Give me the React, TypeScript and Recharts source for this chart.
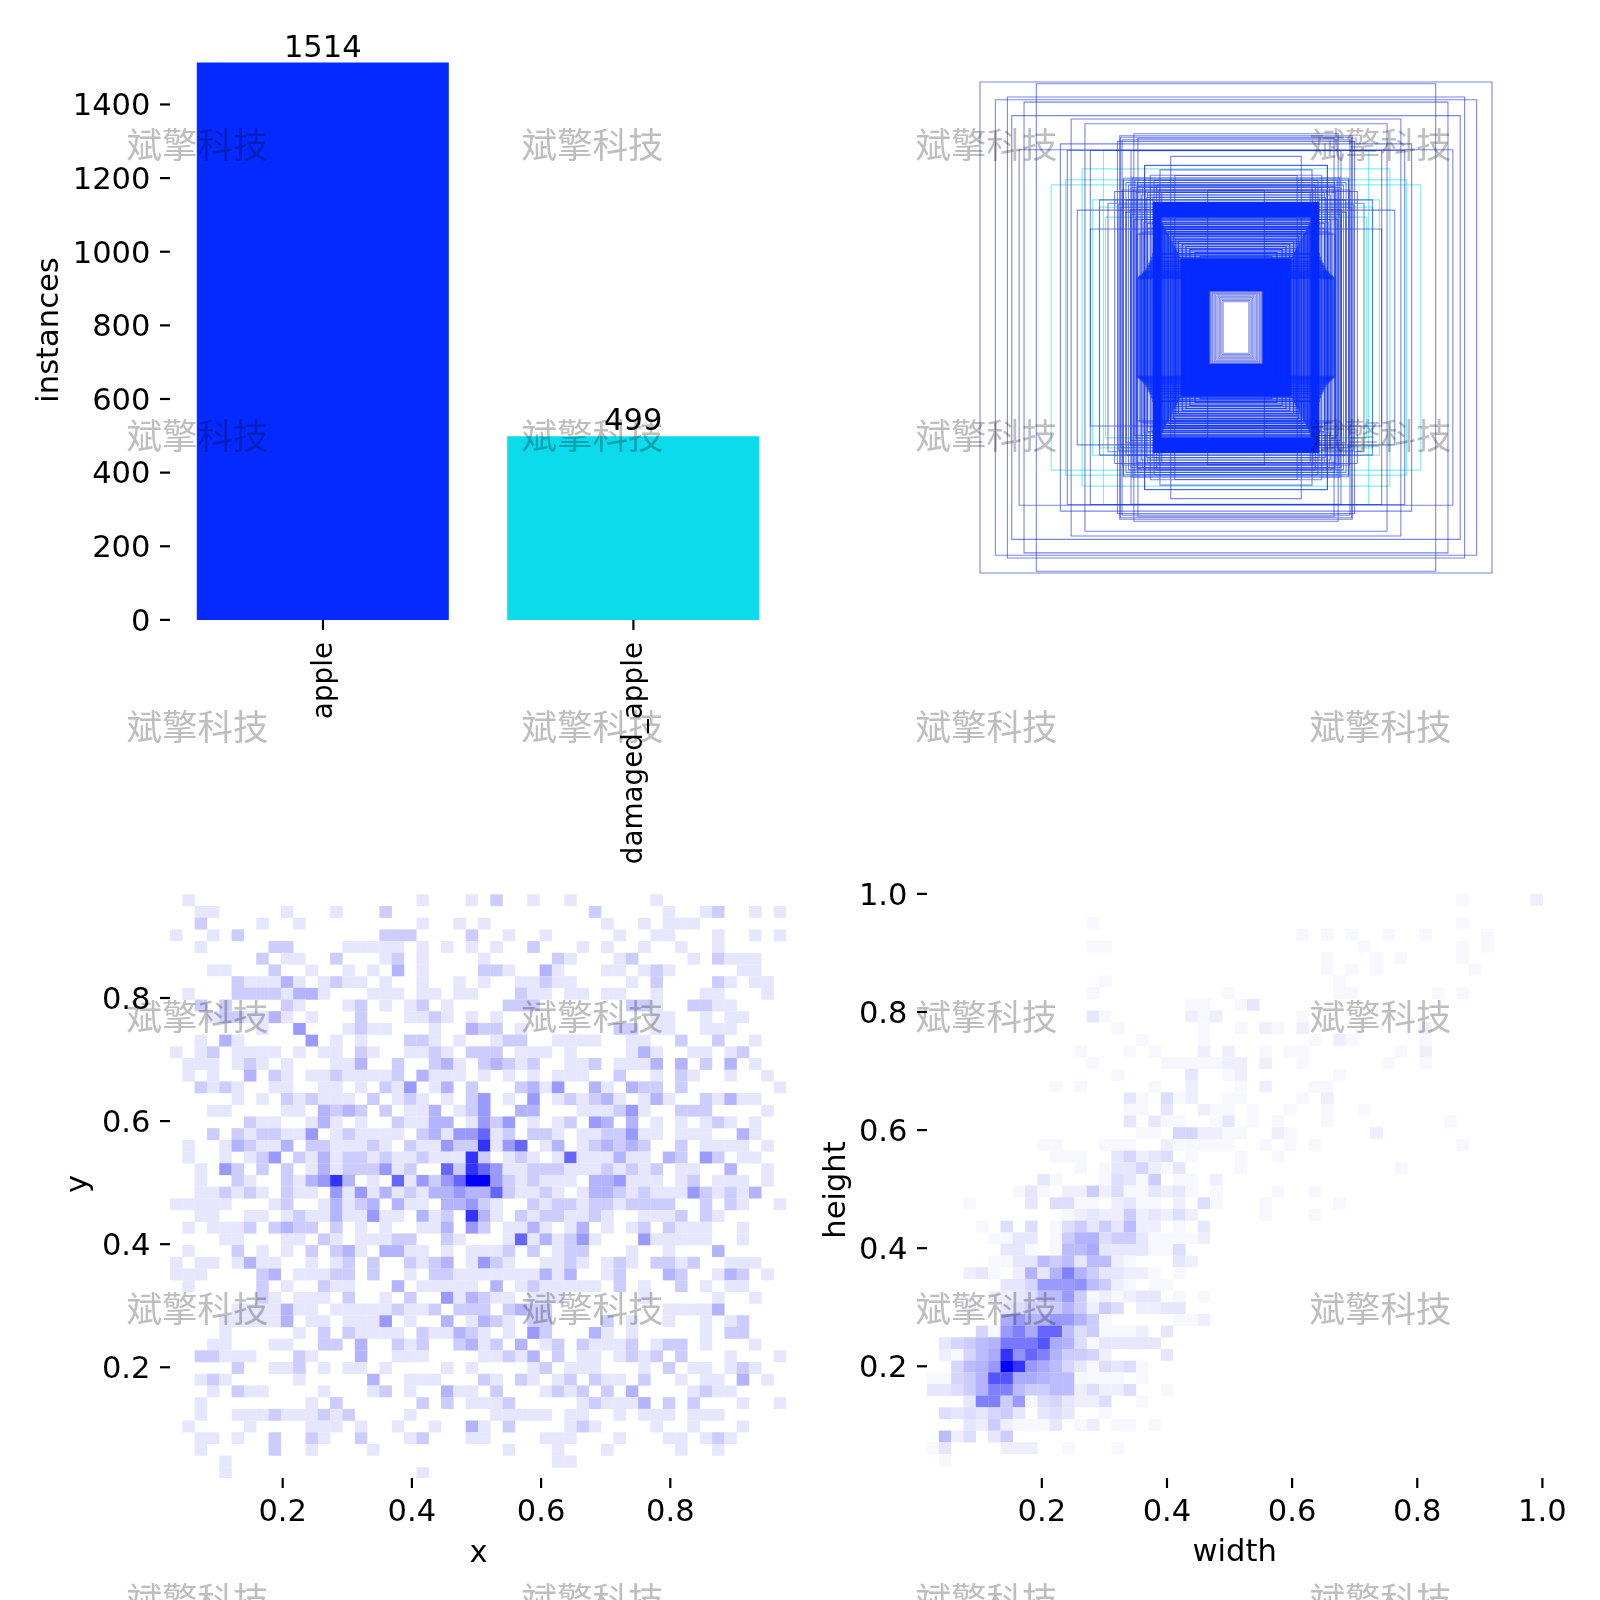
import { BarChart, Bar, Cell, LabelList, XAxis, YAxis, ScatterChart, Scatter, ReferenceArea } from 'recharts';

const FONT = '"DejaVu Sans", sans-serif';
const TICK_SIZE = 30.56;
const CLASS_SIZE = 27.8;

const classNames = ['apple', 'damaged_apple'];
const instanceCounts = [1514, 499];
const classColors = ['#042aff', '#0bdbeb'];
const instanceTicks = [0, 200, 400, 600, 800, 1000, 1200, 1400];

// box sizes as [width, height], all centred on the origin
const appleBoxes = [
  [1.0, 1.0], [0.78, 0.993], [0.94, 0.928], [0.893, 0.939], [0.828, 0.918], [0.876, 0.863],
  [0.644, 0.849], [0.59, 0.83], [0.847, 0.724], [0.686, 0.748], [0.659, 0.721], [0.454, 0.781],
  [0.463, 0.758], [0.399, 0.789], [0.383, 0.771], [0.569, 0.721], [0.255, 0.697], [0.357, 0.661],
  [0.297, 0.642], [0.239, 0.619], [0.111, 0.558], [0.62, 0.478], [0.569, 0.401], [0.533, 0.52],
  [0.5, 0.506], [0.44, 0.608], [0.474, 0.554], [0.387, 0.574], [0.346, 0.424], [0.319, 0.411],
  [0.452, 0.775], [0.445, 0.765], [0.41, 0.72], [0.357, 0.66], [0.44, 0.6], [0.43, 0.59],
  [0.42, 0.58], [0.41, 0.57], [0.4, 0.56], [0.39, 0.55], [0.37, 0.54], [0.35, 0.53],
  [0.335, 0.62], [0.32, 0.6], [0.31, 0.58], [0.3, 0.56], [0.29, 0.55], [0.46, 0.5],
  [0.45, 0.49], [0.43, 0.47], [0.41, 0.46], [0.39, 0.45], [0.37, 0.44], [0.36, 0.43],
];
const damagedBoxes = [
  [0.722, 0.581], [0.666, 0.601], [0.601, 0.646], [0.518, 0.721], [0.534, 0.49], [0.51, 0.45], [0.56, 0.52],
];
// tight bands of apple boxes that merge into solid blue
const coreBoxes = [
  [0.11, 0.155], [0.12, 0.167], [0.13, 0.179], [0.14, 0.191], [0.15, 0.203], [0.16, 0.215],
  [0.17, 0.227], [0.18, 0.239], [0.19, 0.251], [0.2, 0.263], [0.21, 0.275],
  [0.3, 0.455], [0.305, 0.468], [0.31, 0.48], [0.314, 0.492], [0.318, 0.505],
];
const stripedBoxes = [
  [0.215, 0.28], [0.219, 0.287], [0.222, 0.294], [0.226, 0.301], [0.229, 0.308], [0.233, 0.315],
  [0.236, 0.322], [0.24, 0.329], [0.243, 0.336], [0.247, 0.343], [0.25, 0.35], [0.254, 0.357],
  [0.257, 0.364], [0.261, 0.371], [0.264, 0.378], [0.268, 0.385], [0.271, 0.392], [0.275, 0.399],
  [0.278, 0.406], [0.282, 0.413], [0.285, 0.42], [0.288, 0.428], [0.292, 0.436], [0.296, 0.444], [0.3, 0.45],
  [0.14, 0.29], [0.16, 0.305], [0.18, 0.318], [0.195, 0.33], [0.21, 0.34], [0.225, 0.352],
  [0.235, 0.36], [0.245, 0.372], [0.255, 0.382], [0.265, 0.39], [0.28, 0.4], [0.29, 0.41],
];
const shoulderBoxes = [
  [0.325, 0.3], [0.33, 0.285], [0.335, 0.27], [0.34, 0.26], [0.345, 0.25], [0.35, 0.24], [0.355, 0.23],
  [0.36, 0.225], [0.365, 0.22], [0.37, 0.215], [0.375, 0.21], [0.38, 0.205], [0.385, 0.2],
];
const haloBoxes = [
  [0.325, 0.53], [0.335, 0.54], [0.345, 0.55], [0.355, 0.56], [0.365, 0.57], [0.375, 0.58],
  [0.385, 0.59], [0.395, 0.6], [0.405, 0.61],
  [0.33, 0.42], [0.345, 0.405], [0.36, 0.39], [0.375, 0.385], [0.387, 0.38], [0.398, 0.44],
  [0.412, 0.48], [0.428, 0.52], [0.444, 0.56],
];
const innerBoxes = [
  [0.104, 0.153], [0.1, 0.15], [0.097, 0.147], [0.093, 0.144], [0.09, 0.14], [0.085, 0.137],
  [0.08, 0.133], [0.075, 0.128], [0.07, 0.124], [0.065, 0.12], [0.06, 0.115], [0.055, 0.11], [0.05, 0.105],
];

// histogram rows from the top: "col:count" or "from-to:count"
const xyRows = [
  '1:1 20:1 24:1 26:2 29:1 32:1 39:1',
  '2-3:1 9:1 13:1 17:2 34:2 40:1 43:1 44:2 47:1 49:1',
  '2:2 7:1 10:1 20:1 23:1 25:1 35:1 38:1 40-42:1',
  '0:1 3:1 5:2 17-19:2 24:2 27:1 30:1 36:1 39-40:1 44:1 47:1 49:1',
  '2:1 8-9:2 14-18:1 20:1 22:1 24:1 26:1 29:2 33:1 35:1 38:1 41:1 44:1',
  '7:2 9-10:1 13:2 17:1 18:2 20:1 25:1 31:2 32:1 36:1 37:2 42:1 44:2 45-47:1',
  '3-4:1 8:2 11:1 14:1 16:1 18:3 20:1 25-26:2 27:1 30:3 31:1 35-36:1 38:1 39:2 40:1 46-47:1',
  '5:2 6-8:1 9:3 10:1 12:1 13:2 14-15:1 17:1 20:1 23:1 25:1 28-29:1 30:2 31-32:1 37:1 39:2 44:2 45:1 47-48:1',
  '1:1 5-8:2 9:1 10-11:3 12:1 16-18:1 20-21:1 23-24:1 28:2 29-30:1 32-33:1 35-36:1 39:1 43-44:1 48:1',
  '2:2 4:2 9:2 10:1 14:1 15:2 17:1 19:1 20:2 22:1 27-29:2 37-38:2 39:1 42-43:2 44-45:1',
  '3:1 4-5:2 6-7:1 8:3 9:1 11:1 15:2 19-20:1 21:2 22:1 24:1 26:1 39-40:1 43:1 45-46:1',
  '7:1 10:4 14:1 15:2 16-17:1 21:1 24:3 25-26:2 28:1 36-37:2 39-40:1 43-45:1',
  '2:1 4:3 5:1 11:4 13:1 15:1 19-20:2 21:1 23:1 26:1 27-28:2 31-34:1 37-38:1 41:2 44:2 47:1',
  '0:1 2:1 3:2 5-8:1 10:1 12-13:1 15:2 16:1 19-20:1 21:2 22:1 24-26:2 28-30:1 32:1 37:1 38:3 39:1 42-43:1 45:1 46:2',
  '1-3:1 5:1 6:2 7:1 9:1 13-14:1 15:3 18:2 21:2 22:3 23:1 25:2 26:3 27:2 28:1 29:2 32-33:1 34:2 36-38:1 39:3 41:3 43:2 45:3 47:1',
  '1:1 3:1 6:3 8:2 9:1 11-12:1 13:2 14-17:1 18:2 20:3 21-23:1 25:1 27:1 29:1 31-33:1 36:2 39:1 41:2 42:1 45:1 48:1',
  '2:2 3:1 4:2 5:1 8-9:1 12-13:1 15:1 17:2 18:1 19:4 21:1 22:3 24:2 28:2 29:3 30:1 31:4 34:3 35:1 37:3 38-39:2 41:2 49:1',
  '5:1 7:1 9:2 10:1 11:2 12-14:1 16:2 18:1 19:2 20:1 22:1 24:2 25:4 27:1 29:4 31:1 32:2 33:1 34:2 35:3 36:1 38:1 39:3 40:1 43:2 44:1 45:3 46-47:1',
  '3-4:1 9-10:1 12:3 13:2 14:3 15:2 17:2 19-20:1 21:3 23:1 24:2 25:4 28-29:3 33-35:1 36:2 37:4 38:1 41-43:2 48:1',
  '6:2 7-8:1 11:1 12:3 13:1 15:1 18:2 19-20:1 21-22:3 24:1 25:4 26:2 27:4 29:1 31:1 32:2 34:4 35:3 37:3 39:1 41:1 43:1 44:2 45:1 47:1',
  '3:2 5:2 6:1 7-8:2 9-10:1 11:4 13:1 14:2 15-18:1 20:2 21:3 22:1 23:4 24:4 25:6 26:1 27:2 29-30:2 31:1 33-34:1 35-36:2 37:4 38-39:1 41-43:1 46:3 47:1',
  '1:1 4:1 5:3 6:2 7-8:1 9:3 11-12:2 13-15:1 16:2 17:1 19:2 20-21:1 22:4 23:2 24:2 25:8 26:1 27:4 28:6 30:1 31:3 33:1 34:2 35:3 36:2 37:3 38:2 41:2 43-46:1 48:1',
  '1:1 4:1 6:1 7:2 8:4 10:2 11:1 12:3 13:1 14-15:2 16:1 17:2 18-19:1 20:2 21-23:1 24:8 25:2 27:1 28:2 29:1 31:1 32:6 33-35:1 36:3 37-38:1 40:3 41:2 43:4 44:2 46-47:1',
  '2:1 4:4 5:2 7:2 9:2 11:1 12:3 13:1 14-16:2 17:4 18:1 19:2 22:6 23:2 24:8 25:6 26:4 27-28:1 29-31:2 32-34:1 35:2 36:1 37:2 38:1 39:2 41-42:1 45:3 48:1',
  '2:1 5:2 6:1 9:2 10:1 11:3 12:4 13:8 14:3 16:1 18:6 19:1 20:4 21:2 22:4 23:6 24:10 25:10 26:4 27:2 28:1 29:2 30-32:1 34-35:3 36:4 37-39:1 41:1 42:2 44-46:1 48:1',
  '2-3:1 4:2 5:1 6:2 7:1 9:2 10-11:1 13:4 14:1 15:4 16:1 17:3 18:1 19:2 20:1 21-22:3 23:4 24-25:3 26:6 27:2 28-29:1 30:2 31:1 33:1 34-35:3 36:2 37:1 38:2 39-41:1 42:4 43:2 44:1 45:2 46:1 47:3',
  '0-4:1 8:1 9:2 12:1 13:3 14:1 15:2 16:3 18:3 19-20:1 22-23:3 24:4 25:2 26:1 29:2 30:1 31-32:2 33:1 34-35:2 36:1 37-40:2 43:2 45:2 46:1 49:1',
  '2-3:1 6-7:1 9:1 10:2 11-12:1 13:3 14-15:1 16:4 17-18:1 20:3 21:1 22:2 24:8 25:3 26:1 28:2 29:1 30-31:2 32-33:1 34:2 35:1 38-40:1 41:2 43:2 44:1',
  '1:1 3-5:1 6:2 8:2 9:3 10-11:2 13:2 15:1 17:1 20-21:1 22:3 24:4 25:2 27-28:1 29:3 30:1 32:1 33:3 35:1 37:1 38:2 40:2 41-43:1 46:1',
  '4-5:1 9-10:1 12:2 13:1 15-17:1 18-19:2 22:2 23:1 27:1 28:6 29:1 30:3 31:1 32:2 33:4 34:1 38:4 39-43:1 46:1',
  '1:1 5:2 7:1 9:1 11:2 13:2 14:3 15:1 17-18:3 19-20:1 22:1 24-26:1 27:2 29:2 31:1 32-33:2 37:1 40:1 44:3',
  '0:1 2-3:1 5:1 6:3 7-8:1 11:1 13:1 14:2 16:2 19:2 20:1 21:2 22:3 24:1 25:4 26:2 27:1 30-31:1 32:2 33:1 35:1 36:2 37:1 39-40:2 41:1 42:2 45-47:1',
  '0-2:1 7:2 8:3 10-12:1 13-14:2 16:2 19:1 21-22:2 23-29:1 30:3 31:1 32:3 35:1 36:2 40:3 41:2 44:1 45:3 46:2 48:1',
  '1:1 7:2 9:1 12:2 13-14:1 18:3 20-24:1 26:3 28:1 29:2 30-34:1 36:2 38:1 41:2 43:1 45-46:1',
  '7:2 8:1 10-12:1 14:2 17:1 19:2 22:4 23:1 24:3 25:2 26-27:1 29-31:1 38:1 44:1 47:1',
  '5-7:1 8:1 9:3 10-11:1 13-17:1 18:2 19-20:1 21:2 23-24:2 25:2 27:2 28:3 29-30:2 40-43:1 44:3',
  '4-8:1 9:3 11-12:1 14-16:1 17:4 19:1 22:3 24:1 25:3 26:2 27:1 29-30:2 35:2 37:1 40:1 43:1 45:1 46:2',
  '4:1 10:1 12:2 14:2 15-18:1 20:2 21-22:1 23:3 24:2 25:1 27:1 29:4 30:2 34:3 35:1 37:1 43:1 45-46:2',
  '3-4:1 8-9:1 12-13:2 15:3 18:2 19:1 20:2 23:2 24:3 25:1 26:2 28:3 30:1 31:2 33:2 34-36:1 37:2 39:1 40-41:2 43:1 47:1',
  '2-3:2 4-6:1 10:2 11:1 15:3 18-20:1 25-26:1 27:2 28:1 29:3 31:2 33-34:1 36:1 37:2 38:1 39:2 41:2 45:1 49:1',
  '5:2 8-9:1 10:2 12:1 14-15:1 17:1 22:1 24:1 29:1 30:2 32-34:1 38:1 40:2 42-43:1 45:1 46:2 47:1',
  '2:1 3:2 4:1 10:1 16:3 19-21:1 25:2 26:1 28:2 29:1 31:1 32:2 34:2 35-36:1 38:2 41:1 43-44:1 46:3 48:1',
  '3:1 5:2 6-7:1 12:1 16:1 17:2 19:1 22:3 23-24:1 26:2 30:1 31:2 32:1 33:2 35:2 37:3 42:1 43:2 44-45:1',
  '2:1 11:1 13:2 20:2 22:2 24-26:1 27:2 33:1 34:2 35-37:1 38:3 40:2 42:2 46:1 49:1',
  '2:1 5-7:1 8:2 9-11:1 12:2 13:1 14:2 19:1 26-30:1 32-33:1 36:1 38-40:1 42-44:1',
  '1:1 6:1 11-13:1 15:1 18:1 21:1 24:3 25:1 27:2 32:1 33:2 34:1 39:1 42:1 46:1',
  '2-3:1 5:1 8:2 11:2 12:1 15:2 19:1 20:2 24-25:1 30-32:1 36:1 40-41:1 43:1 44:2 45:1',
  '2:1 8:2 11:1 16:1 27:1 31:1 35:1 41:1 44:1',
  '4:1 31-32:1',
  '4:1 20:1',
];

const whRows = [
  '43:1 49:2',
  '',
  '13:1 43:1',
  '30:1 32:1 34:1 37:1 40:1 45:1',
  '13-14:1 35:1 43:1 45:1',
  '32:1 36:1 38:1 43:1',
  '32:1 34:1 36:1 44:1',
  '14:1 33:1',
  '13:1 24:1 33-34:1 41:1 43:1',
  '21-22:1 25:1 26:3',
  '13:3 14:1 21:2 22:1 23:2 30:1',
  '15:1 22:1 25:1 27:2 28:1 30:2 40:2',
  '17:1 22:1 31:1 33:2 34:1 40:1',
  '12:1 16:1 18:1 22:2 24:2 27:1 29-30:1 38:1 40:2',
  '13:1 19-20:1 21-23:1 24-25:2 27:2 30:1 37:1 40:1',
  '15:1 21:3 24:1 25:2 33:1',
  '10:1 12:1 18:1 21:2 25:1 27:2 31-32:1',
  '16:3 17:1 19:4 20:1 21:2 24-25:1 30:1 32:2',
  '16:1 17:1 19:3 22:2 23-24:1 26:1 29:1 32:1 35:1',
  '16:3 18:3 19-20:1 23:1 24:3 26:1 28:1 32:1 42:1',
  '17-18:1 20-21:5 22:2 23:2 24-25:1 28:2 29:1 36:2',
  '9-10:1 14-16:1 19:2 20:1 21-24:1 27:1 29:1 31:1 43:1',
  '10-12:1 15:3 16:5 17:2 18:3 19:4 21:1 25:1 28:1',
  '12:1 14:1 15-16:3 17:5 18:2 19:1 20:3 25:1 38:1',
  '9:3 10:1 14:1 15:4 16:3 17:1 18:6 20-21:1 23:2',
  '7:1 8:3 9:1 11-12:2 13:6 14:2 15:4 16-17:1 18:3 19:2 20:3 21:1 23:1 28:1 31:1',
  '3:1 8:3 10-11:4 12-13:1 15:2 16:3 17-18:1 20:2 22:4 23:1 27:1 33:1',
  '11:1 12:2 13:3 14-15:2 16:6 17:2 18:3 19:2 20:4 21:2 27:1 31:1',
  '4:1 6:4 8:4 10:1 11:4 12:6 13:3 14:6 15:3 16:8 17-18:2 20:1 22:3',
  '5-6:1 7:3 8:3 10:1 11:6 12-13:9 14:4 15-16:6 17:3 18-21:1 22:2',
  '6-7:3 8:1 10:1 11-12:8 13:10 14-17:3 18-19:1 20:4',
  '5-6:1 7-8:3 9:8 10:6 11:8 12:3 13-14:8 15:2 16:1 20:3 21:2',
  '3:2 4:3 5:1 7:2 8:9 9:3 10:9 11:15 12:9 13:6 14-15:3 16-17:2 18:1 20:1',
  '6-7:3 8:5 9-11:12 12:13 13:8 14:6 15:2 16:1 18-19:1',
  '5-6:2 7:3 8:4 9-10:8 11:12 12:6 13:1 14:2 15:1 16:2 17-18:3 20:1 22:1',
  '3:1 6:3 7:4 8:6 9:5 10:6 11:9 12:6 13:2 14:6 15:4 17-18:2 19-20:3',
  '6:10 7:12 8-9:9 10-11:12 12:9 13:6 14:1 20-21:1 22:2',
  '4:5 5:1 6:12 7:15 8:10 9:18 10:18 11:8 12:4 13:6 14-16:1 17:2 19:3',
  '1:3 2:5 3:6 4:8 5:9 6-8:16 9:20 10:10 11:9 12:4 13:1 14-18:3',
  '1:2 2:1 3:5 4:8 5:10 6:24 7:13 8:18 9:15 10:9 11-12:6 13:5 14:2 19:3',
  '2:5 3:8 4:9 5:12 6:30 7:24 8:12 9:10 10:8 11:5 12:3 13:1 14:4 15:3 16:4 17:1',
  '0-1:1 2:5 3:6 4:9 5-6:20 7-8:10 9:9 10-11:8 12-15:1 17:1',
  '0-1:3 2:4 3:6 4:9 5-6:15 7:8 8-9:6 10-11:8 12:2 13:4 14-15:2 16:4 19:1',
  '3:3 4-5:15 6:6 7:12 8:1 9:4 10:5 11:3 12-13:2 14:4 17:1',
  '1:4 2:3 3:4 4:3 5:5 6:6 7:3 9:3 10:4 11:3 14:1',
  '3:3 4:2 5:6 6:2 7-9:1 10:3 12:1 13:2 15-16:1 18:1',
  '1:8 2:2 3:4 5:3 6:6',
  '0:1 1:3 6-8:2 11:1 15:1',
  '1:1',
];

const xTicks = [0.2, 0.4, 0.6, 0.8];
const yTicks = [0.2, 0.4, 0.6, 0.8];
const widthTicks = [0.2, 0.4, 0.6, 0.8, 1.0];
const heightTicks = [0.2, 0.4, 0.6, 0.8, 1.0];

const watermarkXs = [197.5, 592.5, 986.5, 1380.5];
const watermarkYs = [142, 433, 724, 1014, 1306, 1597];

const barData = classNames.map((name, i) => ({ name, instances: instanceCounts[i] }));

function histPoints(rows: string[], x0: number, yTop: number, dx: number, dy: number) {
  const pts: { x: number; y: number; count: number }[] = [];
  rows.forEach((row, r) => {
    row.split(' ').filter(Boolean).forEach((item) => {
      const [cols, count] = item.split(':');
      const [from, to] = cols.split('-').map(Number);
      for (let c = from; c <= (to ?? from); c++) {
        pts.push({ x: x0 + (c + 0.5) * dx, y: yTop - (r + 0.5) * dy, count: Number(count) });
      }
    });
  });
  return pts;
}

const xyPoints = histPoints(xyRows, 0.02554, 0.9685, 0.01907, 0.019);
const whPoints = histPoints(whRows, 0.01566, 1.0, 0.0197, 0.01976);

function heatCell(maxCount: number, w: number, h: number) {
  return (p: any) => {
    const c = Math.round(255 * (1 - Math.min(p.payload.count / maxCount, 1)));
    return <rect x={p.cx - w / 2} y={p.cy - h / 2} width={w + 0.2} height={h + 0.2} fill={`rgb(${c},${c},255)`} />;
  };
}

// axis title at a fixed spot in the chart
function title(text: string, x: number, y: number, rotated: boolean) {
  return () => (
    <text
      x={x}
      y={y}
      textAnchor="middle"
      dominantBaseline="central"
      fontSize={TICK_SIZE}
      fontFamily={FONT}
      fill="#000"
      transform={rotated ? `rotate(-90 ${x} ${y})` : undefined}
    >
      {text}
    </text>
  );
}

function ClassTick({ x, payload }: any) {
  const tx = x - 1;
  return (
    <text
      x={tx}
      y={642}
      textAnchor="end"
      dominantBaseline="central"
      fontSize={CLASS_SIZE}
      fontFamily={FONT}
      fill="#000"
      transform={`rotate(-90 ${tx} 642)`}
    >
      {payload.value}
    </text>
  );
}

const axisTick = { fill: '#000', fontSize: TICK_SIZE, fontFamily: FONT };
const tickLine = { stroke: '#000', strokeWidth: 2.2 };
const fmt = (v: number) => v.toFixed(1);
const abs = (left: number, top: number) => ({ position: 'absolute' as const, left, top });

function boxAreas(boxes: number[][], color: string, width: number, opacity: number, tag: string) {
  return boxes.map(([w, h], i) => (
    <ReferenceArea
      key={tag + i}
      x1={-w / 2}
      x2={w / 2}
      y1={-h / 2}
      y2={h / 2}
      fill="none"
      stroke={color}
      strokeWidth={width}
      strokeOpacity={opacity}
      ifOverflow="visible"
    />
  ));
}

export default function App() {
  return (
    <div style={{ position: 'absolute', left: 0, top: 0, width: 1600, height: 1600, overflow: 'hidden', background: '#fff' }}>
      <div style={abs(0, 0)}>
        <BarChart width={800} height={880} data={barData} margin={{ top: 62.5, right: 5, bottom: 0, left: 0 }}>
          <XAxis
            dataKey="name"
            axisLine={false}
            tickLine={tickLine}
            tickSize={10}
            height={260.1}
            interval={0}
            padding={{ left: -2.2, right: 6.4 }}
            tick={<ClassTick />}
          />
          <YAxis
            type="number"
            domain={[0, 1514]}
            ticks={instanceTicks}
            interval={0}
            width={170}
            axisLine={false}
            tickLine={tickLine}
            tickSize={10}
            tickMargin={9.5}
            tick={axisTick}
            label={{ content: title('instances', 47, 330, true) }}
          />
          <Bar dataKey="instances" barSize={252} isAnimationActive={false}>
            {barData.map((d, i) => (
              <Cell key={d.name} fill={classColors[i]} />
            ))}
            <LabelList dataKey="instances" position="top" offset={6} fill="#000" fontSize={TICK_SIZE} fontFamily={FONT} />
          </Bar>
        </BarChart>
      </div>

      <div style={abs(975.6, 77.6)}>
        <ScatterChart width={520} height={499} margin={{ top: 4, right: 4, bottom: 4, left: 4 }}>
          <XAxis type="number" dataKey="x" domain={[-0.5, 0.5]} hide />
          <YAxis type="number" dataKey="y" domain={[-0.5, 0.5]} hide />
          <Scatter data={[{ x: 0, y: 0 }]} shape={() => null} isAnimationActive={false} />
          {boxAreas(damagedBoxes, classColors[1], 1.2, 0.5, 'd')}
          {boxAreas(appleBoxes, '#1f35d8', 1.1, 0.6, 'a')}
          {boxAreas(haloBoxes, classColors[0], 1.2, 0.45, 'h')}
          {boxAreas(innerBoxes, '#1f35d8', 1, 0.55, 'i')}
          {boxAreas(shoulderBoxes, classColors[0], 1.6, 0.6, 'u')}
          {boxAreas(stripedBoxes, classColors[0], 1.2, 0.75, 's')}
          {boxAreas(coreBoxes, classColors[0], 3.6, 1, 'c')}
        </ScatterChart>
      </div>

      <div style={abs(0, 860)}>
        <ScatterChart width={800} height={720} margin={{ top: 20, right: 10, bottom: 0, left: 0 }}>
          <XAxis
            type="number"
            dataKey="x"
            domain={[0.02554, 0.98529]}
            ticks={xTicks}
            interval={0}
            allowDataOverflow
            height={102}
            axisLine={false}
            tickLine={tickLine}
            tickSize={10}
            tickMargin={11}
            tick={axisTick}
            tickFormatter={fmt}
            label={{ content: title('x', 478.6, 691, false) }}
          />
          <YAxis
            type="number"
            dataKey="y"
            domain={[0.0201, 0.9917]}
            ticks={yTicks}
            interval={0}
            allowDataOverflow
            width={170}
            axisLine={false}
            tickLine={tickLine}
            tickSize={10}
            tickMargin={9.5}
            tick={axisTick}
            tickFormatter={fmt}
            label={{ content: title('y', 76.5, 324, true) }}
          />
          <Scatter data={xyPoints} shape={heatCell(10, 12.32, 11.7)} isAnimationActive={false} />
        </ScatterChart>
      </div>

      <div style={abs(800, 860)}>
        <ScatterChart width={800} height={720} margin={{ top: 20, right: 55, bottom: 0, left: 0 }}>
          <XAxis
            type="number"
            dataKey="x"
            domain={[0.01646, 1.00416]}
            ticks={widthTicks}
            interval={0}
            allowDataOverflow
            height={102}
            axisLine={false}
            tickLine={tickLine}
            tickSize={10}
            tickMargin={11}
            tick={axisTick}
            tickFormatter={fmt}
            label={{ content: title('width', 434.7, 690, false) }}
          />
          <YAxis
            type="number"
            dataKey="y"
            domain={[0.0108, 1.0235]}
            ticks={heightTicks}
            interval={0}
            allowDataOverflow
            width={127}
            axisLine={false}
            tickLine={tickLine}
            tickSize={10}
            tickMargin={9.5}
            tick={axisTick}
            tickFormatter={fmt}
            label={{ content: title('height', 34.7, 330, true) }}
          />
          <Scatter data={whPoints} shape={heatCell(30, 12.33, 11.67)} isAnimationActive={false} />
        </ScatterChart>
      </div>

      <svg width={1600} height={1600} style={{ ...abs(0, 0), mixBlendMode: 'multiply', pointerEvents: 'none' }}>
        {watermarkYs.map((y) =>
          watermarkXs.map((x) => (
            <text
              key={`${x}-${y}`}
              x={x}
              y={y}
              textAnchor="middle"
              dominantBaseline="central"
              fontSize={35.5}
              fontFamily='"Noto Sans CJK SC"'
              fill="#bebebe"
            >
              斌擎科技
            </text>
          )),
        )}
      </svg>
    </div>
  );
}
